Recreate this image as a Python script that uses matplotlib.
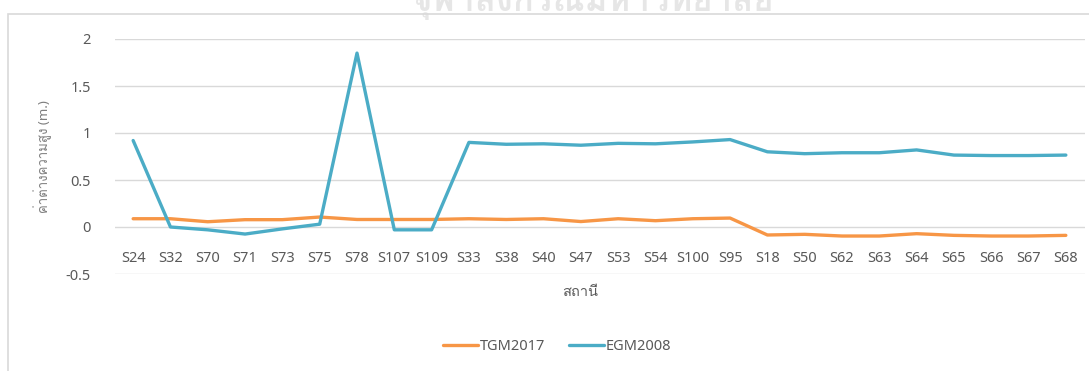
import numpy as np
import matplotlib.pyplot as plt
from matplotlib import font_manager
from matplotlib.ft2font import FT2Font
from matplotlib.patches import Rectangle
from matplotlib.lines import Line2D

# สถานีและค่าต่างความสูงของแต่ละแบบจำลอง (m.)
stations = ['S24', 'S32', 'S70', 'S71', 'S73', 'S75', 'S78', 'S107', 'S109',
            'S33', 'S38', 'S40', 'S47', 'S53', 'S54', 'S100', 'S95', 'S18',
            'S50', 'S62', 'S63', 'S64', 'S65', 'S66', 'S67', 'S68']
tgm2017 = [0.088, 0.088, 0.056, 0.078, 0.078, 0.106, 0.080, 0.080, 0.080,
           0.088, 0.080, 0.088, 0.058, 0.088, 0.067, 0.088, 0.095, -0.085,
           -0.078, -0.096, -0.096, -0.071, -0.089, -0.096, -0.096, -0.089]
egm2008 = [0.92, 0.00, -0.03, -0.075, -0.02, 0.03, 1.85, -0.03, -0.03,
           0.90, 0.88, 0.885, 0.87, 0.89, 0.885, 0.905, 0.93, 0.80,
           0.78, 0.79, 0.79, 0.82, 0.765, 0.76, 0.76, 0.765]
yticks = [-0.5, 0, 0.5, 1, 1.5, 2]
ytick_labels = ['-0.5', '0', '0.5', '1', '1.5', '2']


def thai_font():
    # หาฟอนต์ที่มีอักษรไทย
    for f in font_manager.fontManager.ttflist:
        try:
            if 0x0E2A in FT2Font(f.fname).get_charmap():
                return f.name
        except Exception:
            pass
    return None


th = thai_font()
fams = ['Noto Sans', 'DejaVu Sans']
if th:
    fams.append(th)
plt.rcParams['font.family'] = fams

txt = '#595959'
orange = '#F79646'
blue = '#4BACC6'

fig = plt.figure(figsize=(10.89, 3.71), dpi=100)
ax = fig.add_axes([114.5 / 1089, 97 / 371, 970 / 1089, 235 / 371])

x = np.arange(len(stations))
ax.plot(x, tgm2017, color=orange, lw=2.4, solid_capstyle='round', zorder=3)
ax.plot(x, egm2008, color=blue, lw=2.4, solid_capstyle='round', zorder=3)

ax.set_xlim(-0.5, len(stations) - 0.5)
ax.set_ylim(-0.5, 2)
ax.set_yticks(yticks)
ax.set_yticklabels(ytick_labels)
ax.set_xticks(x)
ax.set_xticklabels(stations)
ax.spines['bottom'].set_position(('data', 0))
for s in ax.spines.values():
    s.set_visible(False)
ax.tick_params(axis='x', length=0, pad=17, labelsize=10.5, colors=txt)
ax.tick_params(axis='y', length=0, pad=17, labelsize=10.5, colors=txt)
ax.yaxis.grid(True, color='#D9D9D9', lw=1)
ax.set_axisbelow(True)

fig.text(43 / 1089, 1 - 157 / 371, 'ค่าต่างความสูง (m.)', rotation=90,
         ha='center', va='center', fontsize=9.5, color='#7F7F7F')
fig.text(580 / 1089, 1 - 292 / 371, 'สถานี', ha='center', va='center',
         fontsize=10.5, color=txt)

handles = [Line2D([], [], color=orange, lw=2.4, solid_capstyle='round'),
           Line2D([], [], color=blue, lw=2.4, solid_capstyle='round')]
fig.legend(handles, ['TGM2017', 'EGM2008'], loc='center',
           bbox_to_anchor=(557 / 1089, 1 - 347 / 371), ncol=2, frameon=False,
           fontsize=10.5, labelcolor=txt, handlelength=2.4, handletextpad=0.15,
           columnspacing=1.6)

# กรอบพื้นที่แผนภูมิ
fig.patches.append(Rectangle((8 / 1089, -0.1), 1.1, 1 - 14 / 371 + 0.1,
                             transform=fig.transFigure, fill=False,
                             ec='#D9D9D9', lw=1.2))
# ลายน้ำด้านบน (เห็นเฉพาะครึ่งล่าง)
fig.text(592 / 1089, 1 - 11 / 371, 'จุฬาลงกรณ์มหาวิทยาลัย', ha='center',
         va='baseline', fontsize=25, color='#E6E6E6', fontweight='bold',
         zorder=0)

fig.savefig('out.png', dpi=100)
